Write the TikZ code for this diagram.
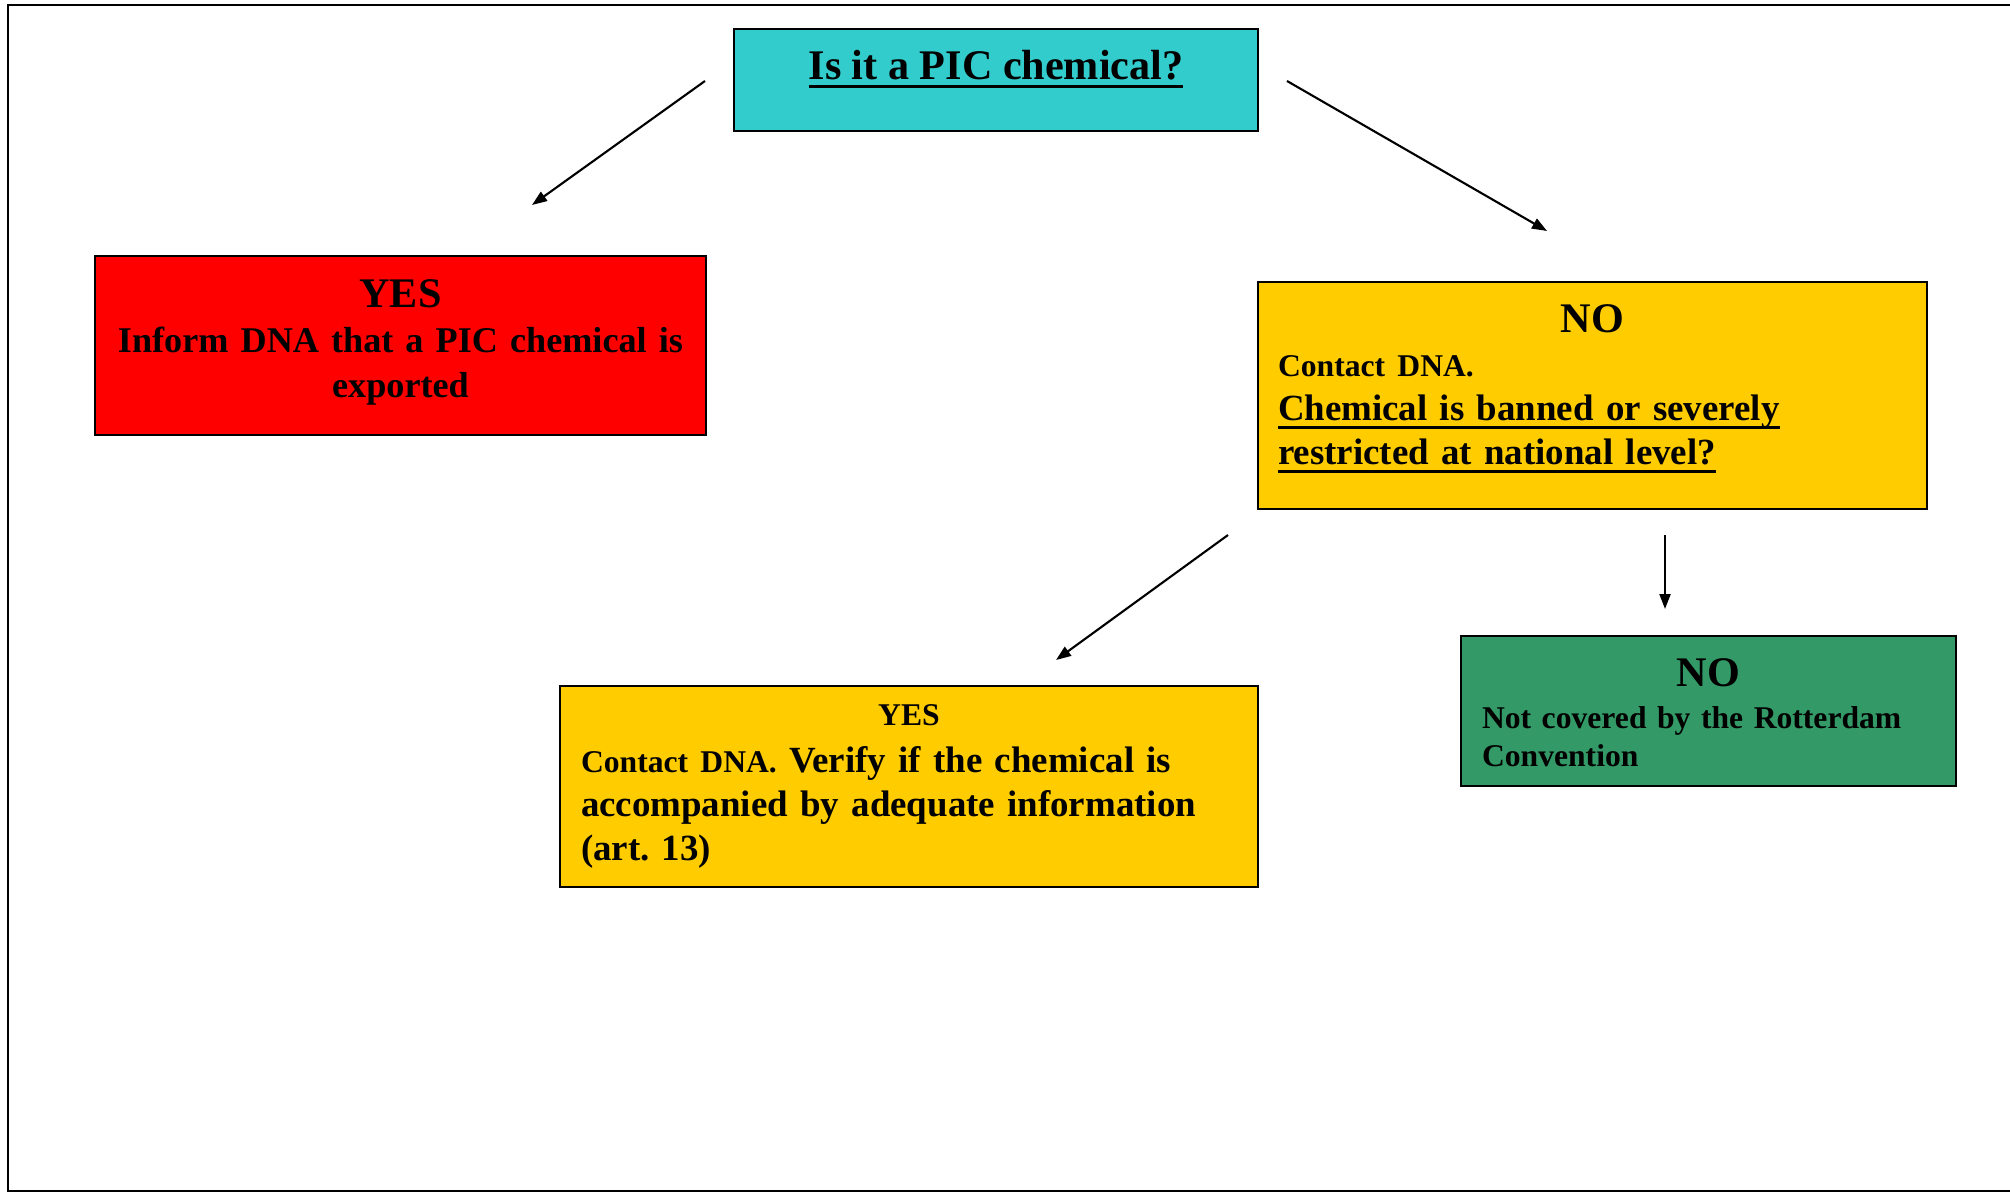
\documentclass[tikz,border=0pt]{standalone}
\usepackage{fontspec}
\setmainfont{Liberation Serif}
\usepackage{xcolor}
\usetikzlibrary{arrows.meta,positioning,calc}
\definecolor{piccyan}{RGB}{51,204,204}
\definecolor{picred}{RGB}{255,0,0}
\definecolor{picyellow}{RGB}{255,204,0}
\definecolor{picgreen}{RGB}{51,153,102}
\newcommand{\thickul}[1]{\leavevmode\setbox0\hbox{#1}\rlap{\rule[-2.4pt]{\wd0}{0.9pt}}\box0}
\frenchspacing

\begin{document}
\begin{tikzpicture}[chartbox/.style={draw, line width=0.7pt, inner sep=0pt},
    flowarrow/.style={-{Triangle[length=0.15cm,width=0.11cm]}, line width=0.6pt}]
    \useasboundingbox (0,0) rectangle (20.1,-11.93);
    \draw [line width=0.8pt] (20.1,-0.05) -- (0.08,-0.05) -- (0.08,-11.91) -- (20.1,-11.91);

    \node (pic) [chartbox, fill=piccyan, minimum width=5.24cm, text height=0.51cm, text depth=0.51cm, font=\fontsize{12}{14}\selectfont\bfseries] at (9.96,-0.80) {\thickul{Is it a PIC chemical?}};

    \node (yesinform) [chartbox, fill=picred, text width=6.11cm, align=center, text height=0.52cm, text depth=1.27cm, font=\fontsize{10.3}{12.8}\selectfont\bfseries] at (4.005,-3.455) {{\fontsize{12}{14}\selectfont YES}\\Inform DNA that a PIC chemical is\\exported};

    \node (nocontact) [chartbox, fill=picyellow, text width=6.29cm, inner xsep=0.20cm, align=left, text height=0.51cm, text depth=1.76cm, font=\fontsize{10.5}{12.5}\selectfont\bfseries] at (15.925,-3.955) {\hfill{\fontsize{12}{14}\selectfont NO}\hfill\mbox{}\\{\fontsize{9}{10}\selectfont Contact DNA.}\\\thickul{Chemical is banned or severely}\\\thickul{restricted at national level?}};

    \node (yesverify) [chartbox, fill=picyellow, text width=6.56cm, inner xsep=0.21cm, align=left, text height=0.39cm, text depth=1.62cm, font=\fontsize{10.5}{12.5}\selectfont\bfseries] at (9.09,-7.865) {\hfill{\fontsize{9}{10}\selectfont YES}\hfill\mbox{}\\[1pt]{\fontsize{9}{10}\selectfont Contact DNA.} Verify if the chemical is\\accompanied by adequate information\\(art. 13)};

    \node (nocover) [chartbox, fill=picgreen, text width=4.53cm, inner xsep=0.21cm, align=left, text height=0.50cm, text depth=1.00cm, font=\fontsize{9}{11}\selectfont\bfseries] at (17.085,-7.11) {\hfill{\fontsize{12}{14}\selectfont NO}\hfill\mbox{}\\[1pt]Not covered by the Rotterdam\\Convention};

    \coordinate (picleft) at (7.05,-0.81);
    \coordinate (picright) at (12.87,-0.81);
    \coordinate (toyes) at (5.32,-2.05);
    \coordinate (tono) at (15.47,-2.31);
    \coordinate (noleft) at (12.28,-5.35);
    \coordinate (nodown) at (16.65,-5.35);
    \coordinate (toverify) at (10.56,-6.60);
    \coordinate (tocover) at (16.65,-6.09);

    \draw [flowarrow] (picleft) -- (toyes);
    \draw [flowarrow] (picright) -- (tono);
    \draw [flowarrow] (noleft) -- (toverify);
    \draw [flowarrow] (nodown) -- (tocover);
\end{tikzpicture}
\end{document}
